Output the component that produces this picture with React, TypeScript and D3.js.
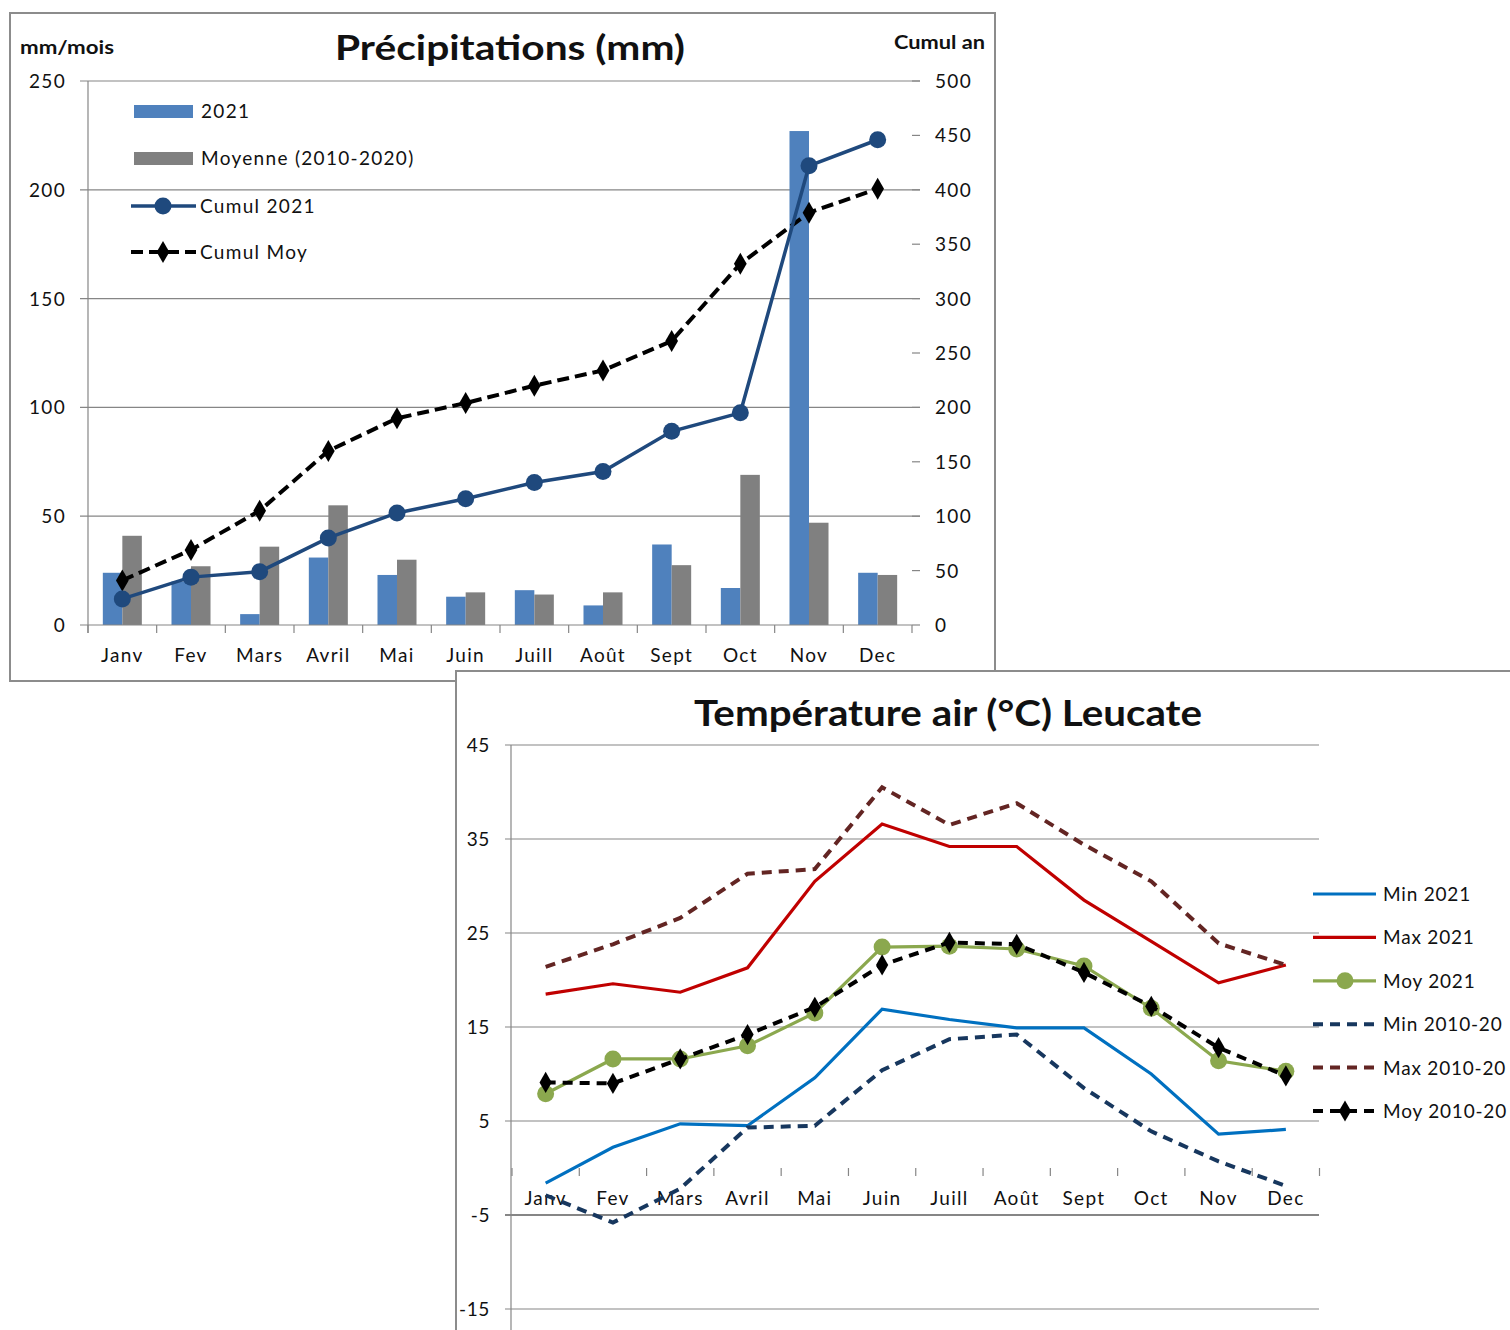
import React from "react";
import * as d3 from "d3";

const months = ["Janv", "Fev", "Mars", "Avril", "Mai", "Juin", "Juill", "Août", "Sept", "Oct", "Nov", "Dec"];

// Précipitations (mm/mois)
const rain2021 = [24, 20, 5, 31, 23, 13, 16, 9, 37, 17, 227, 24];
const rainMoy = [41, 27, 36, 55, 30, 15, 14, 15, 27.5, 69, 47, 23];
// Cumul an (mm)
const cumul2021 = [24, 44, 49, 80, 103, 116, 131, 141, 178, 195, 422, 446];
const cumulMoy = [41, 69, 105, 160, 190, 204, 220, 234, 261, 332, 379, 401];
const leftTicks = [0, 50, 100, 150, 200, 250];
const rightTicks = [0, 50, 100, 150, 200, 250, 300, 350, 400, 450, 500];

// Température air (°C) Leucate
const min2021 = [-1.6, 2.2, 4.7, 4.5, 9.6, 16.9, 15.8, 14.9, 14.9, 10.0, 3.6, 4.1];
const max2021 = [18.5, 19.6, 18.7, 21.3, 30.5, 36.6, 34.2, 34.2, 28.5, 24.1, 19.7, 21.6];
const moy2021 = [7.9, 11.6, 11.6, 13.0, 16.5, 23.5, 23.6, 23.3, 21.5, 17.0, 11.4, 10.3];
const minRef = [-2.9, -5.8, -2.2, 4.3, 4.5, 10.4, 13.7, 14.2, 8.5, 3.9, 0.7, -1.9];
const maxRef = [21.4, 23.8, 26.6, 31.3, 31.8, 40.5, 36.5, 38.8, 34.4, 30.5, 23.9, 21.6];
const moyRef = [9.1, 9.0, 11.6, 14.2, 17.1, 21.6, 24.0, 23.8, 20.8, 17.2, 12.8, 9.8];
const tempTicks = [-15, -5, 5, 15, 25, 35, 45];

const FONT = "Lato, 'Open Sans', sans-serif";
const GRID = "#868686";
const LS = 1.3;

export default function App() {
  // ---------- top chart ----------
  const xT = d3.scaleBand<string>().domain(months).range([88, 912]);
  const sub = d3.scaleBand<string>().domain(["a", "b"]).range([0, xT.bandwidth()]).paddingOuter(0.76);
  const yL = d3.scaleLinear().domain([0, 250]).range([625, 81]);
  const yR = d3.scaleLinear().domain([0, 500]).range([625, 81]);
  const cx = (m: string) => (xT(m) as number) + xT.bandwidth() / 2;
  const lineC21 = d3.line<number>().x((_, i) => cx(months[i])).y((d) => yR(d));
  const diamond = d3.symbol(d3.symbolDiamond, 140)();
  const diamondS = d3.symbol(d3.symbolDiamond, 130)();

  // ---------- bottom chart ----------
  const xB = d3.scaleBand<string>().domain(months).range([512, 1319.5]);
  const yB = d3.scaleLinear().domain([-15, 45]).range([1309, 745]);
  const bx = (i: number) => (xB(months[i]) as number) + xB.bandwidth() / 2;
  const lineB = d3.line<number>().x((_, i) => bx(i)).y((d) => yB(d));

  const legendB = [
    { label: "Min 2021", color: "#0070C0", dash: "", marker: "" },
    { label: "Max 2021", color: "#C00000", dash: "", marker: "" },
    { label: "Moy 2021", color: "#8BA84E", dash: "", marker: "circle" },
    { label: "Min 2010-20", color: "#17375E", dash: "10 7", marker: "" },
    { label: "Max 2010-20", color: "#632523", dash: "10 7", marker: "" },
    { label: "Moy 2010-20", color: "#000000", dash: "10 7", marker: "diamond" },
  ];

  return (
    <svg width={1510} height={1330} style={{ position: "absolute", left: 0, top: 0, display: "block" }} fontFamily={FONT}>
      <rect x={0} y={0} width={1510} height={1330} fill="#fff" />
      {/* ===== Précipitations ===== */}
      <rect x={10} y={13} width={985} height={668} fill="#fff" stroke="#8c8c8c" strokeWidth={2} />
      <text x={20} y={54} fontSize={18} fontWeight="bold" fill="#111" textLength={94} lengthAdjust="spacingAndGlyphs">mm/mois</text>
      <text x={510} y={60} fontSize={34} fontWeight="bold" textAnchor="middle" fill="#111" textLength={350} lengthAdjust="spacingAndGlyphs">Précipitations (mm)</text>
      <text x={894} y={49} fontSize={18} fontWeight="bold" fill="#111" textLength={91} lengthAdjust="spacingAndGlyphs">Cumul an</text>

      {leftTicks.map((t) => (
        <g key={"lt" + t}>
          {t > 0 && <line x1={80} x2={920} y1={yL(t)} y2={yL(t)} stroke={GRID} strokeWidth={1.2} />}
          <text x={66} y={yL(t) + 7} fontSize={19} letterSpacing={LS} textAnchor="end" fill="#111">{t}</text>
        </g>
      ))}
      {rightTicks.map((t) => (
        <g key={"rt" + t}>
          <line x1={912} x2={920} y1={yR(t)} y2={yR(t)} stroke={GRID} strokeWidth={1.2} />
          <text x={935} y={yR(t) + 7} fontSize={19} letterSpacing={LS} fill="#111">{t}</text>
        </g>
      ))}
      {/* bars */}
      {months.map((m, i) => (
        <g key={"bar" + m}>
          <rect x={(xT(m) as number) + (sub("a") as number)} y={yL(rain2021[i])} width={sub.bandwidth()} height={625 - yL(rain2021[i])} fill="#4F81BD" />
          <rect x={(xT(m) as number) + (sub("b") as number)} y={yL(rainMoy[i])} width={sub.bandwidth()} height={625 - yL(rainMoy[i])} fill="#808080" />
        </g>
      ))}
      {/* axes */}
      <line x1={88} x2={88} y1={81} y2={633} stroke={GRID} strokeWidth={1.2} />
      <line x1={80} x2={912} y1={625} y2={625} stroke={GRID} strokeWidth={1.2} />
      {months.concat(["end"]).map((m, i) => {
        const xx = 88 + i * xT.bandwidth();
        return <line key={"xt" + i} x1={xx} x2={xx} y1={625} y2={633} stroke={GRID} strokeWidth={1.2} />;
      })}
      {months.map((m) => (
        <text key={"xl" + m} x={cx(m)} y={662} fontSize={19} letterSpacing={LS} textAnchor="middle" fill="#111">{m}</text>
      ))}
      {/* cumul lines */}
      <path d={lineC21(cumulMoy) as string} fill="none" stroke="#000" strokeWidth={4} strokeDasharray="12 6" />
      {cumulMoy.map((v, i) => (
        <path key={"dm" + i} d={diamond as string} transform={`translate(${cx(months[i])},${yR(v)})`} fill="#000" />
      ))}
      <path d={lineC21(cumul2021) as string} fill="none" stroke="#1F497D" strokeWidth={3.5} />
      {cumul2021.map((v, i) => (
        <circle key={"c21" + i} cx={cx(months[i])} cy={yR(v)} r={8.5} fill="#1F497D" />
      ))}
      {/* legend */}
      <rect x={134} y={105} width={59} height={13} fill="#4F81BD" />
      <text x={201} y={118} fontSize={19} letterSpacing={LS} fill="#111">2021</text>
      <rect x={134} y={152} width={59} height={13} fill="#808080" />
      <text x={201} y={165} fontSize={19} letterSpacing={LS} fill="#111">Moyenne (2010-2020)</text>
      <line x1={131} x2={196} y1={206} y2={206} stroke="#1F497D" strokeWidth={3.5} />
      <circle cx={163} cy={206} r={8.5} fill="#1F497D" />
      <text x={200} y={213} fontSize={19} letterSpacing={LS} fill="#111">Cumul 2021</text>
      <line x1={131} x2={196} y1={252} y2={252} stroke="#000" strokeWidth={4} strokeDasharray="12 6" />
      <path d={diamond as string} transform="translate(163,252)" fill="#000" />
      <text x={200} y={259} fontSize={19} letterSpacing={LS} fill="#111">Cumul Moy</text>

      {/* ===== Température ===== */}
      <rect x={456} y={671} width={1060} height={670} fill="#fff" stroke="#8c8c8c" strokeWidth={2} />
      <text x={948} y={726} fontSize={36} fontWeight="bold" textAnchor="middle" fill="#111" textLength={508} lengthAdjust="spacingAndGlyphs">Température air (°C) Leucate</text>
      {tempTicks.map((t) => (
        <g key={"tt" + t}>
          <line x1={505} x2={1319} y1={yB(t)} y2={yB(t)} stroke={GRID} strokeWidth={t === -5 ? 2 : 1.2} />
          <text x={490} y={yB(t) + 7} fontSize={19} letterSpacing={0.6} textAnchor="end" fill="#111">{t}</text>
        </g>
      ))}
      <line x1={511} x2={511} y1={745} y2={1330} stroke={GRID} strokeWidth={1.2} />
      {months.concat(["end"]).map((m, i) => {
        const xx = 512 + i * xB.bandwidth();
        return <line key={"bt" + i} x1={xx} x2={xx} y1={yB(0)} y2={yB(0) + 8} stroke={GRID} strokeWidth={1.2} />;
      })}
      {months.map((m, i) => (
        <text key={"bl" + m} x={bx(i)} y={1205} fontSize={19} letterSpacing={LS} textAnchor="middle" fill="#111">{m}</text>
      ))}
      <path d={lineB(min2021) as string} fill="none" stroke="#0070C0" strokeWidth={3.2} />
      <path d={lineB(max2021) as string} fill="none" stroke="#C00000" strokeWidth={3.2} />
      <path d={lineB(minRef) as string} fill="none" stroke="#17375E" strokeWidth={4} strokeDasharray="10 7" />
      <path d={lineB(maxRef) as string} fill="none" stroke="#632523" strokeWidth={4} strokeDasharray="10 7" />
      <path d={lineB(moy2021) as string} fill="none" stroke="#8BA84E" strokeWidth={3.2} />
      {moy2021.map((v, i) => (
        <circle key={"gm" + i} cx={bx(i)} cy={yB(v)} r={8.5} fill="#8BA84E" />
      ))}
      <path d={lineB(moyRef) as string} fill="none" stroke="#000" strokeWidth={4} strokeDasharray="10 7" />
      {moyRef.map((v, i) => (
        <path key={"bm" + i} d={diamondS as string} transform={`translate(${bx(i)},${yB(v)})`} fill="#000" />
      ))}
      {legendB.map((l, i) => {
        const yy = 894 + i * 43.4;
        return (
          <g key={"lg" + i}>
            <line x1={1313} x2={1376} y1={yy} y2={yy} stroke={l.color} strokeWidth={l.dash ? 4 : 3.2} strokeDasharray={l.dash || undefined} />
            {l.marker === "circle" && <circle cx={1345} cy={yy} r={8.5} fill={l.color} />}
            {l.marker === "diamond" && <path d={diamondS as string} transform={`translate(1345,${yy})`} fill={l.color} />}
            <text x={1383} y={yy + 7} fontSize={19} letterSpacing={0.8} fill="#111">{l.label}</text>
          </g>
        );
      })}
    </svg>
  );
}
